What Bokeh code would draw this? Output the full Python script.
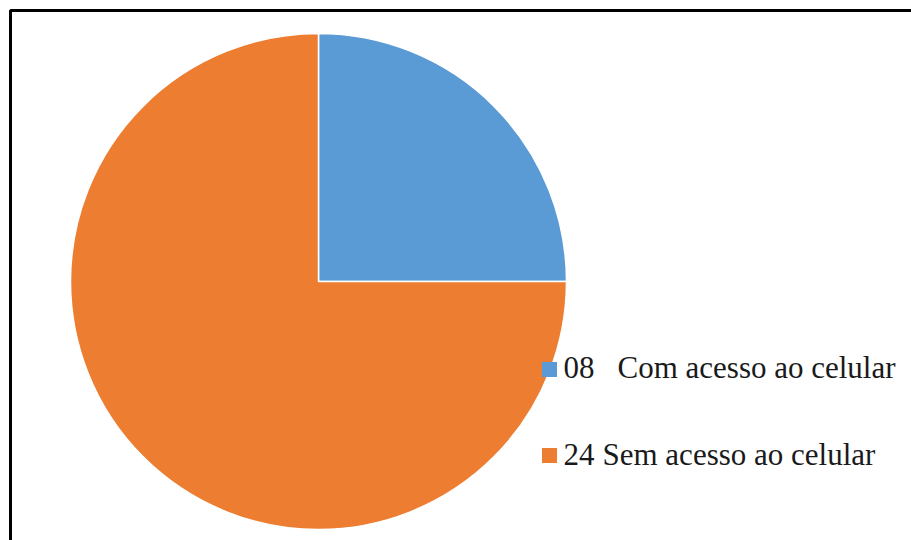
import numpy as np
from bokeh.plotting import figure
from bokeh.models import Range1d, ColumnDataSource, BoxAnnotation
from bokeh.core.properties import value
from bokeh.embed import file_html
from bokeh.resources import INLINE

# data
counts = [8, 24]
count_labels = ["08", "24"]
names = ["Com acesso ao celular", "Sem acesso ao celular"]
colors = ["#5B9BD5", "#ED7D31"]

W, H = 911, 540
p = figure(width=W, height=H, output_backend="svg", toolbar_location=None,
           x_range=Range1d(0, W), y_range=Range1d(0, H), min_border=0)
p.axis.visible = False
p.grid.visible = False
p.outline_line_color = None
p.background_fill_color = "white"
p.border_fill_color = "white"

# pie
cx, cy, r = 318, H - 281, 248
total = sum(counts)
frac = np.array(counts) / total
cum = np.concatenate([[0], np.cumsum(frac)])
start = np.pi / 2 - 2 * np.pi * cum[:-1]
end = np.pi / 2 - 2 * np.pi * cum[1:]
src = ColumnDataSource(dict(start=start, end=end, color=colors))
p.wedge(x=cx, y=cy, radius=r, start_angle="start", end_angle="end",
        direction="clock", fill_color="color", line_color="white",
        line_width=1.5, source=src)

# legend (manual)
leg_x = 549
row_y = [H - 369, H - 455]
name_off = [54, 39]
lsrc = ColumnDataSource(dict(y=row_y, color=colors, cnt=count_labels, nm=names,
                             ty=[H - 367, H - 454],
                             nx=[leg_x + 14 + o for o in name_off]))
p.rect(x=leg_x, y="y", width=15, height=15, fill_color="color",
       line_color=None, source=lsrc)
font = value("Liberation Serif")
p.text(x=leg_x + 14, y="ty", text="cnt", text_font=font,
       text_font_size="31px", text_color="#1a1a1a", text_baseline="middle",
       text_align="left", source=lsrc)
p.text(x="nx", y="ty", text="nm", text_font=font,
       text_font_size="31px", text_color="#1a1a1a", text_baseline="middle",
       text_align="left", source=lsrc)

# frame border
p.add_layout(BoxAnnotation(left=10, right=W + 50, top=H - 10, bottom=-50,
                           fill_alpha=0, line_color="black", line_alpha=1,
                           line_width=3))

open("out.html", "w").write(file_html(p, INLINE))
